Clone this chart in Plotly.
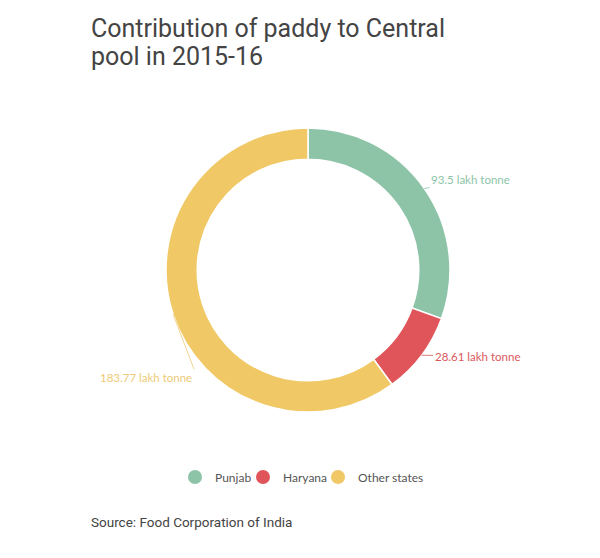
import math
import plotly.graph_objects as go

states = ["Punjab", "Haryana", "Other states"]
values = [93.5, 28.61, 183.77]
label_texts = ["93.5 lakh tonne", "28.61 lakh tonne", "183.77 lakh tonne"]
colors = ["#8DC4A8", "#E0555A", "#F0C865"]
label_colors = ["#8DC4A8", "#D9575C", "#EDCB78"]

W, H = 600, 558
CX, CY, R = 300, 262, 142  # donut centre / radius in px (layout)
legend_left_px = [167, 235, 310]  # left edge of each legend entry box

fig = go.Figure()
fig.add_trace(go.Pie(
    labels=states, values=values, textinfo="none",
    marker=dict(colors=colors, line=dict(color="white", width=1.5)),
    hole=0.78, sort=False, direction="clockwise", rotation=0,
    domain=dict(x=[(CX - R) / W, (CX + R) / W], y=[(H - CY - R) / H, (H - CY + R) / H]),
    showlegend=False, hoverinfo="label+value",
))
legend_names = ["legend", "legend2", "legend3"]
for s, c, ln in zip(states, colors, legend_names):
    fig.add_trace(go.Scatter(x=[None], y=[None], mode="markers", name=s, legend=ln,
                             marker=dict(symbol="circle", size=14, color=c)))

# outside labels with leader lines, anchored at each slice's mid-angle
label_style = [  # (ax, ay, xanchor, yanchor)
    (46, -9, "center", "middle"),
    (56, 1, "center", "middle"),
    (21, 55, "right", "top"),
]
total = sum(values)
cum = 0
annotations = []
for v, t, c, (ax, ay, xa, ya) in zip(values, label_texts, label_colors, label_style):
    mid = (cum + v / 2) / total * 2 * math.pi
    cum += v
    px = CX + R * math.sin(mid)
    py = CY - R * math.cos(mid)
    annotations.append(dict(
        text=t, x=px / W, y=1 - py / H, xref="paper", yref="paper",
        xanchor=xa, yanchor=ya,
        showarrow=True, arrowhead=0, arrowwidth=0.8, arrowcolor=c, ax=ax, ay=ay,
        font=dict(family="Lato", size=11.5, color=c), standoff=0, startstandoff=0))

annotations += [
    dict(text="Contribution of paddy to Central", x=81 / W, y=1 - 21 / H,
         xref="paper", yref="paper", xanchor="left", yanchor="middle", showarrow=False,
         font=dict(family="Roboto", size=25, color="#444")),
    dict(text="pool in 2015-16", x=81 / W, y=1 - 48 / H,
         xref="paper", yref="paper", xanchor="left", yanchor="middle", showarrow=False,
         font=dict(family="Roboto", size=25, color="#444")),
    dict(text="Source: Food Corporation of India", x=81 / W, y=1 - 514 / H,
         xref="paper", yref="paper", xanchor="left", yanchor="middle", showarrow=False,
         font=dict(family="Roboto", size=13.5, color="#444")),
]

legend_common = dict(orientation="h", yanchor="middle", y=(H - 469) / H, xanchor="left",
                     font=dict(family="Lato", size=12, color="#555"), itemwidth=30,
                     bgcolor="rgba(0,0,0,0)", borderwidth=0)
legends = {ln: dict(legend_common, x=lx / W) for ln, lx in zip(legend_names, legend_left_px)}

fig.update_layout(
    width=W, height=H,
    margin=dict(l=0, r=0, t=0, b=0),
    paper_bgcolor="white", plot_bgcolor="white",
    xaxis=dict(visible=False), yaxis=dict(visible=False),
    annotations=annotations,
    **legends,
)
fig.write_html("out.html")
